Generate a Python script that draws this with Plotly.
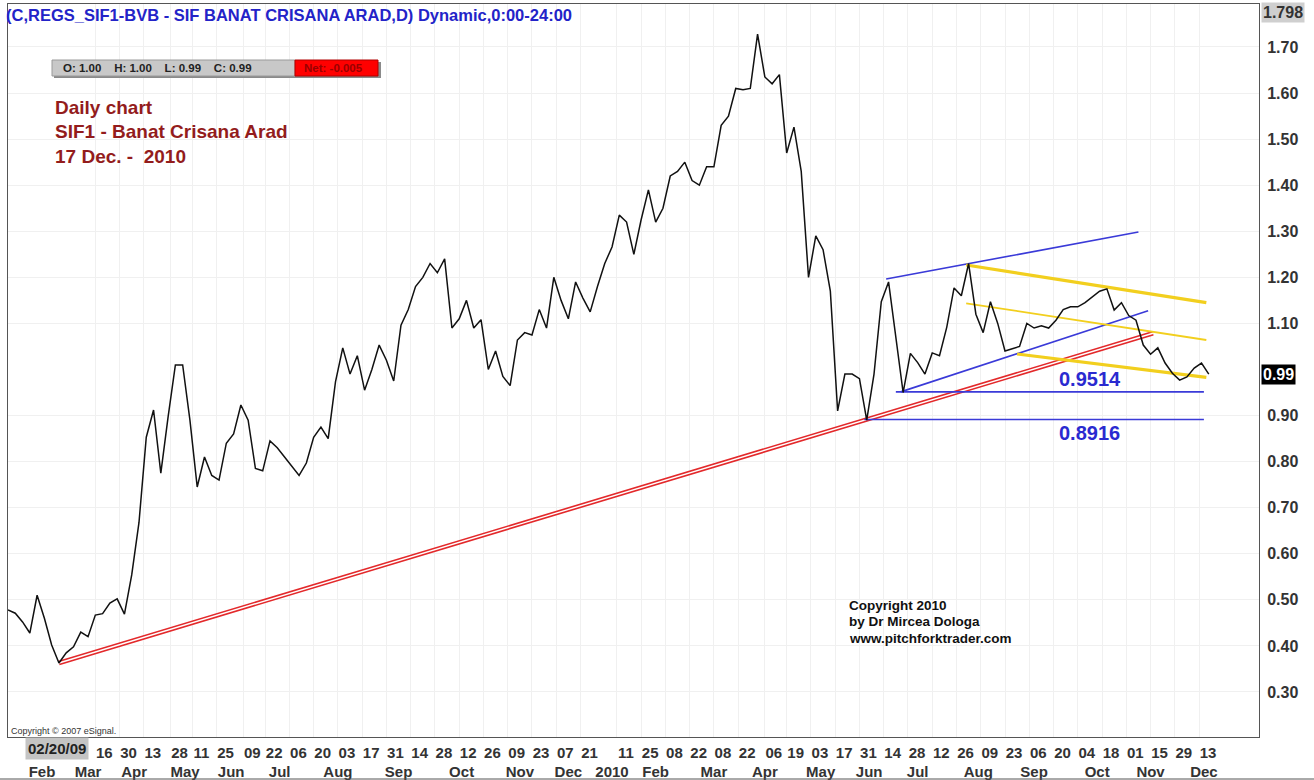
import pandas as pd
import plotly.graph_objects as go

# ---------------- data ----------------
START_DATE = "2009-01-23"
STEP_BDAYS = 3
CLOSE = [
    0.478, 0.471, 0.452, 0.428, 0.510, 0.460, 0.402, 0.363, 0.385, 0.398,
    0.430, 0.420, 0.467, 0.470, 0.493, 0.502, 0.469, 0.554, 0.668, 0.853,
    0.912, 0.775, 0.897, 1.010, 1.010, 0.890, 0.745, 0.810, 0.770, 0.760,
    0.840, 0.860, 0.923, 0.890, 0.785, 0.780, 0.845, 0.830, 0.810, 0.790,
    0.770, 0.797, 0.853, 0.875, 0.850, 0.973, 1.047, 0.990, 1.030, 0.955,
    1.000, 1.053, 1.020, 0.975, 1.096, 1.130, 1.180, 1.200, 1.230, 1.210,
    1.240, 1.090, 1.110, 1.150, 1.090, 1.108, 1.000, 1.040, 0.985, 0.965,
    1.064, 1.080, 1.075, 1.130, 1.090, 1.200, 1.150, 1.110, 1.190, 1.155,
    1.125, 1.180, 1.230, 1.266, 1.335, 1.320, 1.250, 1.325, 1.390, 1.320,
    1.350, 1.420, 1.430, 1.450, 1.410, 1.400, 1.440, 1.440, 1.530, 1.550,
    1.610, 1.607, 1.610, 1.728, 1.635, 1.620, 1.640, 1.470, 1.526, 1.430,
    1.200, 1.290, 1.260, 1.170, 0.910, 0.990, 0.990, 0.980, 0.890, 0.990,
    1.147, 1.190, 1.064, 0.950, 1.035, 1.015, 0.990, 1.036, 1.030, 1.092,
    1.177, 1.160, 1.230, 1.120, 1.080, 1.147, 1.100, 1.040, 1.045, 1.050,
    1.100, 1.090, 1.095, 1.090, 1.107, 1.130, 1.136, 1.136, 1.145, 1.157,
    1.170, 1.175, 1.129, 1.145, 1.117, 1.107, 1.053, 1.033, 1.047, 1.014,
    0.992, 0.977, 0.984, 1.003, 1.014, 0.990,
]

RED_TREND_DATES = ["2009-02-23", "2010-11-16"]
RED_TREND_VALUES = [0.363, 1.0786]

BLUE_UPPER_DATES = ["2010-06-15", "2010-11-08"]
BLUE_UPPER_VALUES = [1.1964, 1.2984]
BLUE_LOWER_DATES = ["2010-06-23", "2010-11-12"]
BLUE_LOWER_VALUES = [0.9514, 1.1276]

SUPPORT_LEVELS = [0.9514, 0.8916]
SUPPORT_START_DATES = ["2010-06-21", "2010-06-02"]
SUPPORT_END_DATE = "2010-12-15"
SUPPORT_LABEL_DATE = "2010-10-11"

YELLOW_START_DATES = ["2010-07-30", "2010-07-30", "2010-08-30"]
YELLOW_START_VALUES = [1.2268, 1.1437, 1.0336]
YELLOW_END_DATE = "2010-12-16"
YELLOW_END_VALUES = [1.145, 1.064, 0.983]

DAY_TICKS = [
    "2009-03-16", "2009-03-30", "2009-04-13", "2009-04-28", "2009-05-11", "2009-05-25",
    "2009-06-09", "2009-06-22", "2009-07-06", "2009-07-20", "2009-08-03", "2009-08-17",
    "2009-08-31", "2009-09-14", "2009-09-28", "2009-10-12", "2009-10-26", "2009-11-09",
    "2009-11-23", "2009-12-07", "2009-12-21", "2010-01-11", "2010-01-25", "2010-02-08",
    "2010-02-22", "2010-03-08", "2010-03-22", "2010-04-06", "2010-04-19", "2010-05-03",
    "2010-05-17", "2010-05-31", "2010-06-14", "2010-06-28", "2010-07-12", "2010-07-26",
    "2010-08-09", "2010-08-23", "2010-09-06", "2010-09-20", "2010-10-04", "2010-10-18",
    "2010-11-01", "2010-11-15", "2010-11-29", "2010-12-13",
]
DAY_LABELS = [d[-2:] for d in DAY_TICKS]

MONTH_TICKS = [
    "2009-02-12", "2009-03-11", "2009-04-07", "2009-05-06", "2009-06-02", "2009-06-30",
    "2009-08-03", "2009-09-07", "2009-10-13", "2009-11-16", "2009-12-14", "2010-01-07",
    "2010-02-02", "2010-03-08", "2010-04-06", "2010-05-07", "2010-06-04", "2010-07-02",
    "2010-08-06", "2010-09-08", "2010-10-14", "2010-11-15", "2010-12-15",
]
MONTH_LABELS = ["Feb", "Mar", "Apr", "May", "Jun", "Jul", "Aug", "Sep", "Oct", "Nov", "Dec",
                "2010", "Feb", "Mar", "Apr", "May", "Jun", "Jul", "Aug", "Sep", "Oct", "Nov", "Dec"]

Y_TICKS = [0.30, 0.40, 0.50, 0.60, 0.70, 0.80, 0.90, 1.10, 1.20, 1.30, 1.40, 1.50, 1.60, 1.70]
X_RANGE = ["2009-01-23", "2011-01-14 17:00"]
Y_RANGE = [0.2023, 1.7933]
LAST_CLOSE = 0.99
AXIS_TOP = 1.798

DATES = pd.date_range(START_DATE, periods=len(CLOSE), freq=pd.offsets.BDay(STEP_BDAYS)).strftime("%Y-%m-%d").tolist()

# ---------------- figure ----------------
W, H = 1314, 780
ML, MR, MT, MB = 8, 55, 4, 43
PW, PH = W - ML - MR, H - MT - MB
FONT = "Arial, 'Liberation Sans', sans-serif"


def px_x(px):
    return (px - ML) / PW


def px_y(py):
    return (H - MB - py) / PH


fig = go.Figure()

# red double trendline
fig.add_trace(go.Scatter(x=RED_TREND_DATES, y=RED_TREND_VALUES, mode="lines",
                         line=dict(color="#e3292b", width=4.6), hoverinfo="skip", showlegend=False))
fig.add_trace(go.Scatter(x=RED_TREND_DATES, y=RED_TREND_VALUES, mode="lines",
                         line=dict(color="#ffffff", width=1.4), hoverinfo="skip", showlegend=False))

# blue channel
for dts, vals in [(BLUE_UPPER_DATES, BLUE_UPPER_VALUES), (BLUE_LOWER_DATES, BLUE_LOWER_VALUES)]:
    fig.add_trace(go.Scatter(x=dts, y=vals, mode="lines", line=dict(color="#3a3ad8", width=1.6),
                             hoverinfo="skip", showlegend=False))
for lvl, sd in zip(SUPPORT_LEVELS, SUPPORT_START_DATES):
    fig.add_trace(go.Scatter(x=[sd, SUPPORT_END_DATE], y=[lvl, lvl], mode="lines",
                             line=dict(color="#3a3ad8", width=1.6), hoverinfo="skip", showlegend=False))

# yellow pitchfork lines
for sd, sv, ev, wdt in zip(YELLOW_START_DATES, YELLOW_START_VALUES, YELLOW_END_VALUES, [3.2, 1.8, 3.2]):
    fig.add_trace(go.Scatter(x=[sd, YELLOW_END_DATE], y=[sv, ev], mode="lines",
                             line=dict(color="#f2cf1e", width=wdt), hoverinfo="skip", showlegend=False))

# price line
fig.add_trace(go.Scatter(x=DATES, y=CLOSE, mode="lines", line=dict(color="#111111", width=1.5),
                         name="SIF1", showlegend=False))

# helper trace for the month axis
fig.add_trace(go.Scatter(x=[DATES[0]], y=[CLOSE[0]], xaxis="x2", mode="markers",
                         marker=dict(opacity=0), hoverinfo="skip", showlegend=False))

annotations = []
# header
annotations.append(dict(xref="paper", yref="paper", x=px_x(4), y=px_y(4), xanchor="left", yanchor="top",
                        text="(C,REGS_SIF1-BVB - SIF BANAT CRISANA ARAD,D) Dynamic,0:00-24:00",
                        showarrow=False, font=dict(family=FONT, size=16.5, color="#2323c8", weight="bold")))
# chart title block
for i, t in enumerate(["Daily chart", "SIF1 - Banat Crisana Arad", "17 Dec. -  2010"]):
    annotations.append(dict(xref="paper", yref="paper", x=px_x(53), y=px_y(107 + i * 24.5),
                            xanchor="left", yanchor="middle", text=t, showarrow=False,
                            font=dict(family=FONT, size=19, color="#931c1c", weight="bold")))
# OHLC box text
annotations.append(dict(xref="paper", yref="paper", x=px_x(61), y=px_y(68), xanchor="left", yanchor="middle",
                        text="O: 1.00&#160;&#160;&#160;&#160;H: 1.00&#160;&#160;&#160;&#160;L: 0.99&#160;&#160;&#160;&#160;C: 0.99",
                        showarrow=False,
                        font=dict(family=FONT, size=11.5, color="#222222", weight="bold")))
annotations.append(dict(xref="paper", yref="paper", x=px_x(302), y=px_y(68), xanchor="left", yanchor="middle",
                        text="Net: -0.005", showarrow=False,
                        font=dict(family=FONT, size=11.5, color="#9a0000", weight="bold")))
# support labels
annotations.append(dict(x=SUPPORT_LABEL_DATE, y=SUPPORT_LEVELS[0], yanchor="bottom", yshift=0,
                        text="0.9514", showarrow=False,
                        font=dict(family=FONT, size=20, color="#2a2ad0", weight="bold")))
annotations.append(dict(x=SUPPORT_LABEL_DATE, y=SUPPORT_LEVELS[1], yanchor="top", yshift=-1,
                        text="0.8916", showarrow=False,
                        font=dict(family=FONT, size=20, color="#2a2ad0", weight="bold")))
# copyright
for i, t in enumerate(["Copyright 2010", "by Dr Mircea Dologa", "www.pitchforktrader.com"]):
    annotations.append(dict(xref="paper", yref="paper", x=px_x(847), y=px_y(605 + i * 16.5),
                            xanchor="left", yanchor="middle", text=t, showarrow=False,
                            font=dict(family=FONT, size=13.5, color="#111111", weight="bold")))
annotations.append(dict(xref="paper", yref="paper", x=px_x(9), y=px_y(731), xanchor="left", yanchor="middle",
                        text="Copyright © 2007 eSignal.", showarrow=False,
                        font=dict(family=FONT, size=9, color="#333333")))
# right-axis value boxes
annotations.append(dict(xref="paper", yref="y", x=1, y=LAST_CLOSE, xanchor="left", yanchor="middle", xshift=2,
                        text=f"{LAST_CLOSE:.2f}", showarrow=False, bgcolor="#000000", borderpad=1,
                        font=dict(family=FONT, size=16, color="#ffffff", weight="bold")))
annotations.append(dict(xref="paper", yref="paper", x=1, y=px_y(13), xanchor="left", yanchor="middle", xshift=2,
                        text=f"{AXIS_TOP:.3f}", showarrow=False, bgcolor="#cfcfcf", borderpad=1,
                        font=dict(family=FONT, size=16, color="#333333", weight="bold")))
# cursor date box
annotations.append(dict(x="2009-02-20", xref="x", yref="paper", y=px_y(748), xanchor="center", yanchor="middle",
                        text="02/20/09", showarrow=False, bgcolor="#c4c4c4", borderpad=2,
                        font=dict(family=FONT, size=15, color="#222222", weight="bold")))

shapes = [
    # OHLC box shadow + boxes
    dict(type="rect", xref="paper", yref="paper", x0=px_x(54), x1=px_x(381), y0=px_y(78), y1=px_y(62),
         fillcolor="#8a8a8a", line=dict(width=0), layer="above"),
    dict(type="rect", xref="paper", yref="paper", x0=px_x(52), x1=px_x(295), y0=px_y(76), y1=px_y(60),
         fillcolor="#c8c8c8", line=dict(color="#9a9a9a", width=1), layer="above"),
    dict(type="rect", xref="paper", yref="paper", x0=px_x(295), x1=px_x(378), y0=px_y(76), y1=px_y(60),
         fillcolor="#ff0000", line=dict(color="#b00000", width=1), layer="above"),
    # outer frame of label area
    dict(type="line", xref="paper", yref="paper", x0=px_x(0), x1=px_x(1314), y0=px_y(779), y1=px_y(779),
         line=dict(color="#555555", width=1)),
]

fig.update_layout(
    width=W, height=H,
    margin=dict(l=ML, r=MR, t=MT, b=MB, pad=0, autoexpand=False),
    paper_bgcolor="#ffffff", plot_bgcolor="#ffffff",
    showlegend=False,
    annotations=annotations,
    shapes=shapes,
    xaxis=dict(
        type="date", range=X_RANGE, rangebreaks=[dict(bounds=["sat", "mon"])],
        tickmode="array", tickvals=DAY_TICKS, ticktext=DAY_LABELS, ticks="", tickangle=0,
        ticklabelshift=9, ticklabelstandoff=2, automargin=False,
        tickfont=dict(family=FONT, size=15, color="#333333", weight="bold"),
        showgrid=True, gridcolor="#f0f0f0", gridwidth=1,
        showline=True, linecolor="#555555", linewidth=1, mirror=True, zeroline=False,
        fixedrange=True,
    ),
    xaxis2=dict(
        type="date", overlaying="x", anchor="y", side="bottom", range=X_RANGE,
        rangebreaks=[dict(bounds=["sat", "mon"])], automargin=False,
        tickmode="array", tickvals=MONTH_TICKS, ticktext=MONTH_LABELS, ticks="", tickangle=0,
        ticklabelstandoff=24,
        tickfont=dict(family=FONT, size=15, color="#333333", weight="bold"),
        showgrid=False, showline=False, zeroline=False,
    ),
    yaxis=dict(
        side="right", range=Y_RANGE, tickmode="array", tickvals=Y_TICKS, automargin=False,
        ticktext=[f"{v:.2f}" for v in Y_TICKS], ticks="", ticklabelstandoff=4,
        tickfont=dict(family=FONT, size=16, color="#333333", weight="bold"),
        showgrid=True, gridcolor="#f0f0f0", gridwidth=1,
        showline=True, linecolor="#555555", linewidth=1, mirror=True, zeroline=False,
    ),
)

fig.write_html("out.html", config={"displayModeBar": False},
               post_script="document.body.style.margin='0px';document.body.style.overflow='hidden';")
